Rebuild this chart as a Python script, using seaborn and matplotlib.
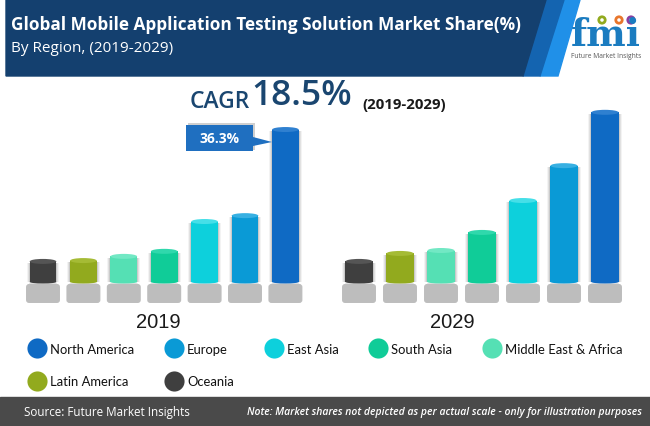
import matplotlib
matplotlib.use("Agg")
import matplotlib.pyplot as plt
from matplotlib.patches import Polygon, Rectangle, Ellipse, FancyBboxPatch, Circle
from matplotlib.lines import Line2D
import pandas as pd
import seaborn as sns

regions = ["Oceania", "Latin America", "Middle East & Africa", "South Asia", "East Asia", "Europe", "North America"]
share_2019 = [4.9, 5.1, 6.1, 7.3, 14.4, 15.8, 36.3]
share_2029 = [4.9, 6.8, 7.5, 11.8, 19.4, 27.7, 40.4]
colors = ["#3f3f3f", "#92aa1e", "#55e0b4", "#10cc98", "#0dd0dc", "#0a9ad6", "#0f6ac4"]
caps = ["#555555", "#a5bb35", "#72e8c4", "#30d8ac", "#45dfe8", "#38b0e2", "#2f80d0"]
legend_order = ["North America", "Latin America", "Europe", "Oceania", "East Asia", "South Asia", "Middle East & Africa"]

W, H = 650, 427
PX_PER_UNIT = 4.2
BASE_PX = 283
sns.set_theme(style="white")
plt.rcParams["font.family"] = ["Open Sans", "DejaVu Sans"]

fig = plt.figure(figsize=(W / 100, H / 100), dpi=100, facecolor="white")
bg = fig.add_axes([0, 0, 1, 1], zorder=0)
bg.set_xlim(0, W); bg.set_ylim(H, 0); bg.axis("off")

# header
bg.add_patch(Polygon([[540, 77], [558, 1], [580, 1], [558, 77]], color="#2090e8"))
bg.add_patch(Polygon([[523, 77], [546, 1], [564, 1], [540, 77]], color="#1464b0"))
bg.add_patch(Polygon([[6, 1], [546, 1], [523, 77], [6, 77]], color="#14406f"))
bg.text(11, 25, "Global Mobile Application Testing Solution Market Share(%)", color="white",
        fontsize=12.45, fontweight="bold", va="center", ha="left")
bg.text(11, 49, "By Region, (2019-2029)", color="white", fontsize=11, va="center", ha="left")

# logo
bg.text(606, 36, "fmi", color="#1b7cc0", fontsize=27, fontweight="bold", family="DejaVu Serif",
        ha="center", va="center")
for x, c in zip([602, 619, 631], ["#92aa1e", "#e8762c", "#8a3fa0"]):
    bg.add_patch(Circle((x, 21), 3.2, fc="white", ec=c, lw=2))
bg.text(606, 57, "Future Market Insights", color="#555555", fontsize=4.8, ha="center", va="center")

# CAGR
navy = "#1a4670"
bg.text(190, 102, "CAGR", color=navy, fontsize=16.5, fontweight="semibold", va="center", ha="left")
bg.text(251, 96, "18.5%", color=navy, fontsize=25.5, fontweight="semibold", va="center", ha="left")
bg.text(362, 105, "(2019-2029)", color="#1a1a1a", fontsize=10.8, fontweight="bold", va="center", ha="left")

# footer
bg.add_patch(Rectangle((0, 398), W, 29, color="#4a4a4a"))
bg.text(24, 413, "Source: Future Market Insights", color="white", fontsize=8.4, va="center", ha="left")
bg.text(247, 413, "Note: Market shares not depicted as per actual scale - only for illustration purposes",
        color="white", fontsize=7.5, style="italic", fontweight="semibold", va="center", ha="left")


def panel(values, left_px, step_px, year, year_px):
    top_px, bottom_px = 100, 310
    width_px = step_px * 7
    ax = fig.add_axes([left_px / W, 1 - bottom_px / H, width_px / W, (bottom_px - top_px) / H], zorder=2)
    ax.patch.set_alpha(0)
    df = pd.DataFrame({"region": regions, "share": values})
    sns.barplot(data=df, x="region", y="share", hue="region", order=regions, hue_order=regions,
                palette=colors, width=0.66, dodge=False, legend=False, saturation=1, linewidth=0, ax=ax)
    ax.set_xlim(-0.5, 6.5)
    ax.set_ylim((BASE_PX - bottom_px) / PX_PER_UNIT, (BASE_PX - top_px) / PX_PER_UNIT)
    uy = 1 / PX_PER_UNIT
    for bar, cap, col in zip(ax.patches, caps, colors):
        x, w, h = bar.get_x(), bar.get_width(), bar.get_height()
        bar.set_zorder(3)
        # soft shadow
        for k, a in zip([3.0, 2.0, 1.0], [0.08, 0.12, 0.18]):
            dx = k / step_px
            ax.add_patch(Rectangle((x - dx, 0), w + 2 * dx, h - 1.5 * uy, color="#666666", alpha=a, lw=0, zorder=2))
        ax.add_patch(Ellipse((x + w / 2, h), w, 5 * uy, color=cap, lw=0, zorder=4))
        ax.add_patch(Ellipse((x + w / 2, 0), w, 3 * uy, color=col, lw=0, zorder=6))
        # pedestal
        cx = x + w / 2
        pw = 31 / step_px
        asp = (uy * step_px)
        ax.add_patch(FancyBboxPatch((cx - pw / 2 - 1.5 / step_px, -21 * uy), pw + 3 / step_px, 19 * uy,
                                    boxstyle=f"round,pad=0,rounding_size={3 / step_px}", mutation_aspect=asp,
                                    fc="#8a8a8a", ec="none", alpha=0.55, zorder=3))
        ax.add_patch(FancyBboxPatch((cx - pw / 2, -20 * uy), pw, 18.5 * uy,
                                    boxstyle=f"round,pad=0,rounding_size={3 / step_px}", mutation_aspect=asp,
                                    fc="#bdbdbd", ec="none", zorder=5))
    ax.set_xlabel(year, fontsize=14.5, color="#1a1a1a", family="Liberation Sans")
    ax.xaxis.set_label_coords((year_px - left_px) / width_px, -(322 - bottom_px) / (bottom_px - top_px), ax.transAxes)
    ax.xaxis.label.set_va("center")
    ax.set_ylabel("")
    ax.set_xticks([]); ax.set_yticks([])
    sns.despine(ax=ax, left=True, bottom=True)
    return ax


ax19 = panel(share_2019, 22.8, 40.4, "2019", 158)
ax29 = panel(share_2029, 338.5, 41.0, "2029", 452)

# callout (foreground)
fg = fig.add_axes([0, 0, 1, 1], zorder=3)
fg.set_xlim(0, W); fg.set_ylim(H, 0); fg.axis("off"); fg.patch.set_alpha(0)
fg.add_patch(Rectangle((188, 124), 67, 27, color="#888888", alpha=0.4, lw=0))
fg.add_patch(Polygon([[186, 126], [253, 126], [253, 138], [272, 143], [253, 147], [253, 152], [186, 152]],
                     color="#1f6fc0", lw=0))
fg.text(219, 139, f"{share_2019[-1]}%", color="white", fontsize=10, fontweight="bold", ha="center", va="center")

# legend
color_of = dict(zip(regions, colors))
handles = [Line2D([], [], ls="", marker="o", ms=14.5, mfc=color_of[r], mec="none", label=r) for r in legend_order]
fig.legend(handles=handles, ncol=5, frameon=False, loc="upper left", bbox_to_anchor=(28 / W, 1 - 344 / H),
           prop={"family": "Lato", "size": 9.4}, labelcolor="#111111",
           handletextpad=0.3, columnspacing=2.35, labelspacing=1.55, borderpad=0, borderaxespad=0, handlelength=1.4)

fig.savefig("out.png", dpi=100, facecolor="white")
